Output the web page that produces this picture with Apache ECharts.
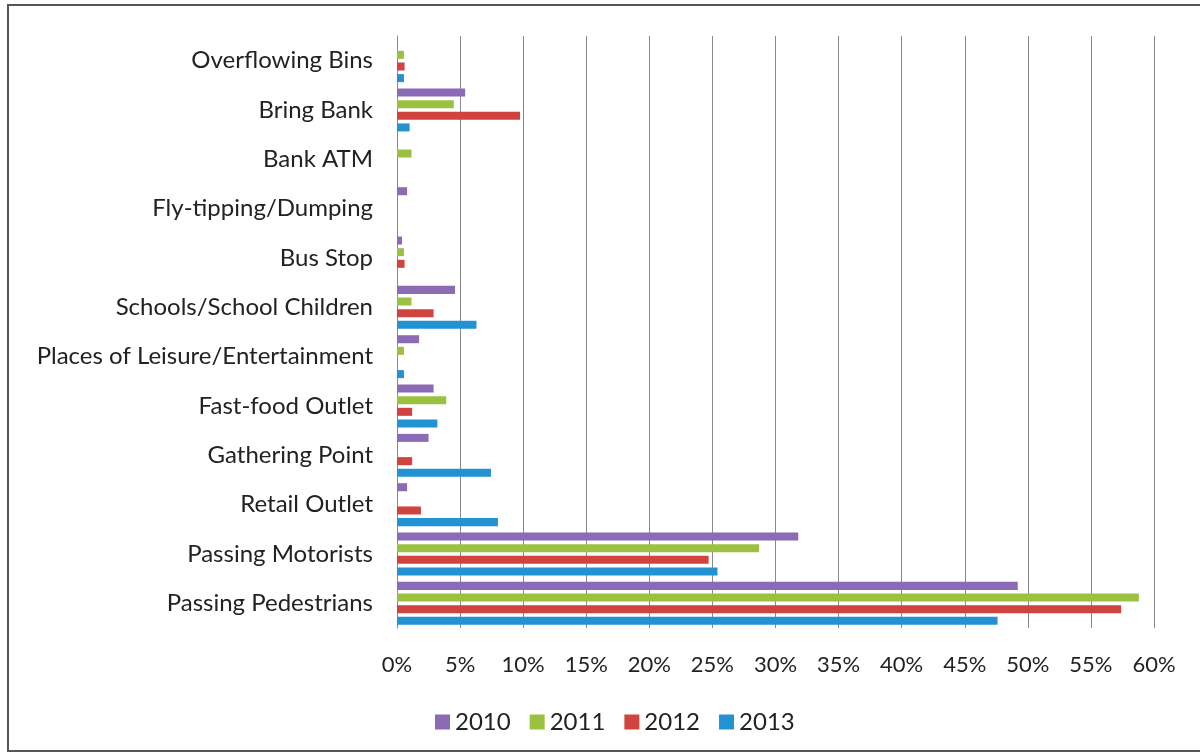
<!DOCTYPE html>
<html>
<head>
<meta charset="utf-8">
<script src="https://cdn.jsdelivr.net/npm/echarts@6/dist/echarts.min.js"></script>
<style>html,body{margin:0;padding:0;background:#fff;}#c{width:1200px;height:753px;}</style>
</head>
<body>
<div id="c"></div>
<script>
const categories = ["Overflowing Bins","Bring Bank","Bank ATM","Fly-tipping/Dumping","Bus Stop","Schools/School Children","Places of Leisure/Entertainment","Fast-food Outlet","Gathering Point","Retail Outlet","Passing Motorists","Passing Pedestrians"];
const seriesNames = ["2010","2011","2012","2013"];
const v2010 = [0, 5.4, 0, 0.8, 0.4, 4.6, 1.75, 2.9, 2.5, 0.8, 31.8, 49.2];
const v2011 = [0.55, 4.5, 1.15, 0, 0.55, 1.15, 0.55, 3.9, 0, 0, 28.7, 58.8];
const v2012 = [0.6, 9.75, 0, 0, 0.6, 2.9, 0, 1.2, 1.2, 1.9, 24.7, 57.4];
const v2013 = [0.55, 1.0, 0, 0, 0, 6.3, 0.55, 3.2, 7.45, 8.0, 25.4, 47.6];
const xTicks = [0,5,10,15,20,25,30,35,40,45,50,55,60];
const colors = ["#8B6BB5","#9CC03F","#D0433F","#2392D2"];
const allValues = [v2010, v2011, v2012, v2013];

const chart = echarts.init(document.getElementById('c'), null, {renderer:'canvas'});
const font = 'Lato';
chart.setOption({
  animation:false,
  backgroundColor:'#fff',
  color: colors,
  graphic:[{type:'rect', shape:{x:8,y:5,width:1200,height:746}, style:{fill:'none', stroke:'#555', lineWidth:2}}],
  grid:{left:397, right:46, top:36, bottom:125, containLabel:false},
  legend:{
    data: seriesNames, left:430, top:705, itemWidth:15, itemHeight:15, itemGap:19,
    icon:'rect',
    textStyle:{fontFamily:font, fontSize:24, color:'#222'}
  },
  xAxis:{
    type:'value', min:xTicks[0], max:xTicks[xTicks.length-1], interval:5,
    axisLine:{show:false}, axisTick:{show:false},
    splitLine:{show:true, lineStyle:{color:'#8a8a8a', width:1}},
    axisLabel:{formatter:'{value}%', fontFamily:font, fontSize:22, color:'#222', margin:26}
  },
  yAxis:{
    type:'category', data:categories, inverse:true,
    axisLine:{show:true, lineStyle:{color:'#8a8a8a'}}, axisTick:{show:false},
    axisLabel:{fontFamily:font, fontSize:24, color:'#222', margin:24}
  },
  series: seriesNames.map((n,i)=>({
    name:n, type:'bar', data:allValues[i],
    barGap:'45%', barCategoryGap:'13%',
    itemStyle:{color:colors[i]}
  }))
});
</script>
</body>
</html>
